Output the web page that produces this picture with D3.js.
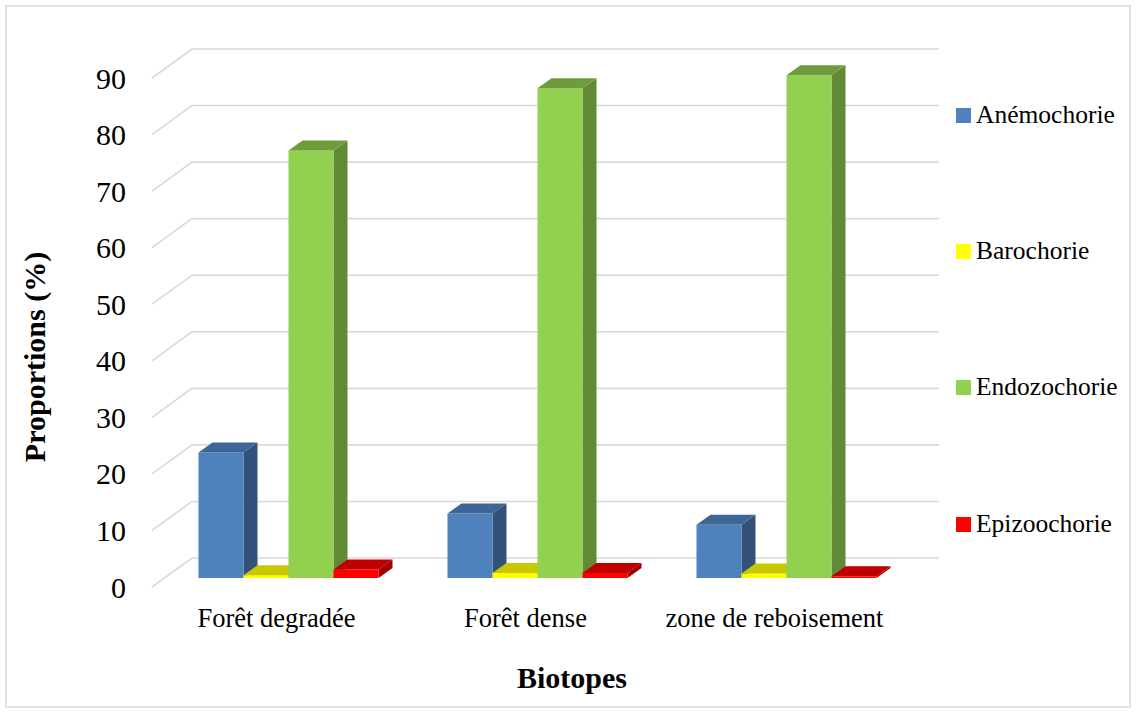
<!DOCTYPE html>
<html><head><meta charset="utf-8">
<script src="https://cdn.jsdelivr.net/npm/d3@7"></script>
<style>body{margin:0;background:#fff}svg{display:block}</style>
</head><body><svg id="c" width="1136" height="713"></svg>
<script>
const categories = ["Forêt degradée", "Forêt dense", "zone de reboisement"];
const series = ["Anémochorie", "Barochorie", "Endozochorie", "Epizoochorie"];
const anemochorie = [22.2, 11.4, 9.4];
const barochorie = [0.5, 0.9, 0.8];
const endozochorie = [75.6, 86.6, 88.9];
const epizoochorie = [1.5, 0.9, 0.3];
const yTicks = [0, 10, 20, 30, 40, 50, 60, 70, 80, 90];
const values = [anemochorie, barochorie, endozochorie, epizoochorie];

const colors = {
  "Anémochorie": {front: "#4f81bd", top: "#3d6595", side: "#32527a"},
  "Barochorie": {front: "#ffff00", top: "#c8c800", side: "#a8a800"},
  "Endozochorie": {front: "#92d050", top: "#6e9b3c", side: "#628935"},
  "Epizoochorie": {front: "#ff0000", top: "#c00000", side: "#a00000"}
};

const svg = d3.select("#c");
const font = "'Liberation Serif','Times New Roman',serif";

svg.append("rect").attr("x", 6).attr("y", 6).attr("width", 1124).attr("height", 701)
  .attr("fill", "#fff").attr("stroke", "#d9d9d9").attr("stroke-width", 1.5);

const y = d3.scaleLinear().domain([0, 90]).range([587, 78]);
const x0 = d3.scaleBand().domain(categories).range([152, 899]);
const groupW = x0.bandwidth() * 0.723;
const x1 = d3.scaleBand().domain(series).range([0, groupW]);

const wallDX = 40, wallDY = -29;
const barDX = 12, barDY = -9;
const depthDX = 14, depthDY = -10;

const grid = svg.append("g");
yTicks.forEach(t => {
  const yf = y(t);
  grid.append("path")
    .attr("d", `M152,${yf}L${152 + wallDX},${yf + wallDY}L${899 + wallDX},${yf + wallDY}`)
    .attr("fill", "none").attr("stroke", "#d9d9d9").attr("stroke-width", 1.6);
});

svg.append("g").selectAll("text").data(yTicks).join("text")
  .attr("x", 126).attr("y", d => y(d)).attr("dy", "0.35em")
  .attr("text-anchor", "end").attr("font-family", font).attr("font-size", 30)
  .attr("fill", "#000").text(d => d);

const bars = svg.append("g");
categories.forEach((c, ci) => {
  const gx = x0(c) + (x0.bandwidth() - groupW) / 2;
  series.forEach((s, si) => {
    const v = values[si][ci];
    const xl = gx + x1(s) + barDX;
    const xr = xl + x1.bandwidth();
    const yb = y(0) + barDY;
    const yt = y(v) + barDY;
    const col = colors[s];
    const g = bars.append("g");
    g.append("path").attr("d", `M${xr},${yb}L${xr + depthDX},${yb + depthDY}L${xr + depthDX},${yt + depthDY}L${xr},${yt}Z`)
      .attr("fill", col.side);
    g.append("rect").attr("x", xl).attr("y", yt).attr("width", xr - xl).attr("height", yb - yt)
      .attr("fill", col.front);
    g.append("path").attr("d", `M${xl},${yt}L${xr},${yt}L${xr + depthDX},${yt + depthDY}L${xl + depthDX},${yt + depthDY}Z`)
      .attr("fill", col.top);
  });
});

svg.append("g").selectAll("text").data(categories).join("text")
  .attr("x", d => x0(d) + x0.bandwidth() / 2).attr("y", 627)
  .attr("text-anchor", "middle").attr("font-family", font).attr("font-size", 26.5)
  .attr("fill", "#000").text(d => d);

svg.append("text").attr("transform", "translate(45,357) rotate(-90)")
  .attr("text-anchor", "middle").attr("font-family", font).attr("font-size", 30)
  .attr("font-weight", "bold").attr("fill", "#000").text("Proportions (%)");
svg.append("text").attr("x", 572).attr("y", 688)
  .attr("text-anchor", "middle").attr("font-family", font).attr("font-size", 30)
  .attr("font-weight", "bold").attr("fill", "#000").text("Biotopes");

const legY = [115, 251, 387, 524];
const leg = svg.append("g").selectAll("g").data(series).join("g")
  .attr("transform", (d, i) => `translate(956,${legY[i]})`);
leg.append("rect").attr("x", 0).attr("y", -7).attr("width", 15).attr("height", 15)
  .attr("fill", d => colors[d].front);
leg.append("text").attr("x", 20).attr("y", 0).attr("dy", "0.33em")
  .attr("font-family", font).attr("font-size", 25.5).attr("fill", "#000").text(d => d);
</script></body></html>
